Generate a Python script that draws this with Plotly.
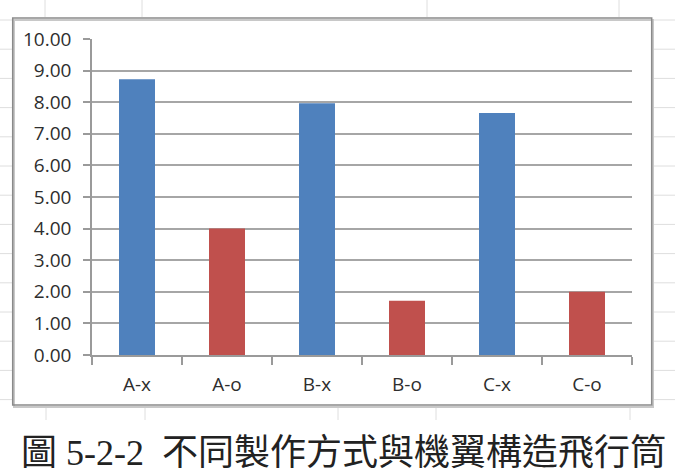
import plotly.graph_objects as go

categories = ["A-x", "A-o", "B-x", "B-o", "C-x", "C-o"]
values = [8.73, 4.00, 7.97, 1.72, 7.66, 2.00]
bar_colors = ["#4F81BD", "#C0504D", "#4F81BD", "#C0504D", "#4F81BD", "#C0504D"]
y_ticks = [0, 1, 2, 3, 4, 5, 6, 7, 8, 9, 10]
caption = "圖 5-2-2  不同製作方式與機翼構造飛行筒"

W, H = 675, 476
L, R, T, B = 92, 43, 39, 121
PW, PH = W - L - R, H - T - B


def px(x):
    return (x - L) / PW


def py(y):
    return (H - B - y) / PH


fig = go.Figure()
fig.add_trace(go.Bar(
    x=categories, y=values, marker=dict(color=bar_colors, line=dict(width=0)),
    hoverinfo="x+y",
))

shapes = []
# faint spreadsheet grid outside the chart frame
grid_c = "#dedede"
for k in range(14):
    yy = 20 + 29.2 * k
    shapes.append(dict(type="line", xref="paper", yref="paper", x0=px(0), x1=px(12),
                       y0=py(yy), y1=py(yy), line=dict(color=grid_c, width=1), layer="below"))
    shapes.append(dict(type="line", xref="paper", yref="paper", x0=px(653), x1=px(675),
                       y0=py(yy), y1=py(yy), line=dict(color=grid_c, width=1), layer="below"))
for xx in [45, 142, 427, 619]:
    shapes.append(dict(type="line", xref="paper", yref="paper", x0=px(xx), x1=px(xx),
                       y0=py(0), y1=py(17), line=dict(color=grid_c, width=1), layer="below"))
for xx in [46, 145, 338, 436, 630]:
    shapes.append(dict(type="line", xref="paper", yref="paper", x0=px(xx), x1=px(xx),
                       y0=py(407), y1=py(420), line=dict(color=grid_c, width=1), layer="below"))
# chart frame with slight shadow
shapes.append(dict(type="rect", xref="paper", yref="paper", x0=px(14), x1=px(653),
                   y0=py(407), y1=py(20), line=dict(color="#c8c8c8", width=2), layer="below"))
shapes.append(dict(type="rect", xref="paper", yref="paper", x0=px(12.7), x1=px(651.7),
                   y0=py(405), y1=py(18), line=dict(color="#8a8a8a", width=1.5), layer="below"))

fig.update_layout(
    width=W, height=H,
    margin=dict(l=L, r=R, t=T, b=B, pad=0),
    paper_bgcolor="white", plot_bgcolor="white",
    showlegend=False,
    bargap=0.6,
    shapes=shapes,
    font=dict(family="Open Sans, Noto Sans, sans-serif", size=19, color="#2e2e2e"),
    xaxis=dict(
        type="category", showline=True, linecolor="#9a9a9a", linewidth=1.5,
        ticks="outside", tickson="boundaries", ticklen=8, tickcolor="#9a9a9a", tickwidth=1.5,
        ticklabelstandoff=11, showgrid=False, zeroline=False,
        tickfont=dict(size=19, color="#2e2e2e"),
    ),
    yaxis=dict(
        range=[0, 10], tickvals=y_ticks, tickformat=".2f",
        showline=True, linecolor="#9a9a9a", linewidth=1.5,
        ticks="outside", ticklen=7, tickcolor="#9a9a9a", tickwidth=1.5,
        showgrid=True, gridcolor="#a6a6a6", gridwidth=1.5, zeroline=False,
        ticklabelstandoff=8, tickfont=dict(size=19, color="#2e2e2e"),
    ),
    annotations=[dict(
        text=caption, xref="paper", yref="paper", x=px(343), y=py(453),
        xanchor="center", yanchor="middle", showarrow=False,
        font=dict(family="Liberation Serif, Noto Sans CJK TC, serif",
                  size=36, color="#222222"),
    )],
)

fig.write_html("out.html")
